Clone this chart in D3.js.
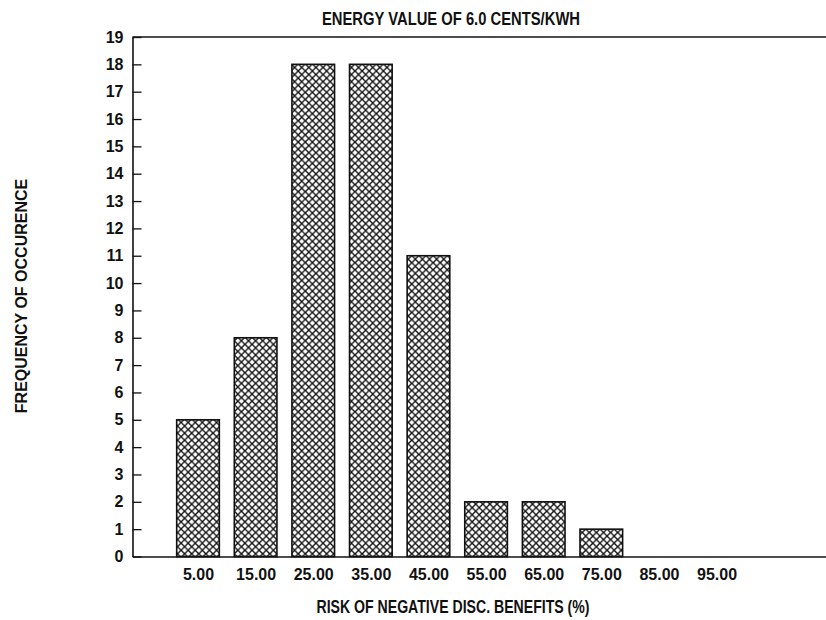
<!DOCTYPE html>
<html>
<head>
<meta charset="utf-8">
<script src="https://cdn.jsdelivr.net/npm/d3@7"></script>
<style>
  html, body { margin: 0; padding: 0; background: #fff; }
  svg { display: block; }
  text { font-family: "Liberation Sans", Arial, sans-serif; font-weight: bold; fill: #111; }
</style>
</head>
<body>
<svg id="chart" width="826" height="620"></svg>
<script>
// Histogram bins (midpoint of each risk interval, %) and counts
const binMids   = [5, 15, 25, 35, 45, 55, 65, 75, 85, 95];
const binLabels = ["5.00", "15.00", "25.00", "35.00", "45.00", "55.00", "65.00", "75.00", "85.00", "95.00"];
const counts    = [5, 8, 18, 18, 11, 2, 2, 1, 0, 0];
const yTicks    = d3.range(0, 20);

const titleText = "ENERGY VALUE OF 6.0 CENTS/KWH";
const xTitle    = "RISK OF NEGATIVE DISC. BENEFITS (%)";
const yTitle    = "FREQUENCY OF OCCURENCE";

const svg = d3.select("#chart");

const plotL = 132.5, plotR = 826, plotT = 37, plotB = 556.5;
const halfBar = 3.7; // half bar width in data units

const x = d3.scaleLinear().domain([-6.37, 114]).range([plotL, plotR]);
const y = d3.scaleLinear().domain([0, 19]).range([plotB, plotT]);

// Cross-hatch fill
const defs = svg.append("defs");
const s = 7.1;
const pat = defs.append("pattern")
  .attr("id", "xhatch")
  .attr("patternUnits", "userSpaceOnUse")
  .attr("width", s).attr("height", s);
pat.append("rect").attr("width", s).attr("height", s).attr("fill", "#fff");
pat.append("path")
  .attr("d", `M0,0L${s},${s}M${s},0L0,${s}`)
  .attr("stroke", "#111").attr("stroke-width", 1.4).attr("fill", "none");

// Top frame line
svg.append("line")
  .attr("x1", plotL).attr("x2", plotR)
  .attr("y1", plotT).attr("y2", plotT)
  .attr("stroke", "#111").attr("stroke-width", 1.6);

// Bars
const data = binMids.map((m, i) => ({ mid: m, count: counts[i] }));
svg.append("g").selectAll("rect")
  .data(data.filter(d => d.count > 0))
  .join("rect")
  .attr("x", d => x(d.mid - halfBar))
  .attr("width", d => x(d.mid + halfBar) - x(d.mid - halfBar))
  .attr("y", d => y(d.count))
  .attr("height", d => y(0) - y(d.count))
  .attr("fill", "url(#xhatch)")
  .attr("stroke", "#111")
  .attr("stroke-width", 1.6);

// Y axis: inward ticks, labels on the left
const yAxis = d3.axisLeft(y)
  .tickValues(yTicks)
  .tickFormat(d3.format("d"))
  .tickSizeInner(-9)
  .tickSizeOuter(0)
  .tickPadding(9);
const gy = svg.append("g").attr("transform", `translate(${plotL},0)`).call(yAxis);
gy.select(".domain").attr("stroke", "#111").attr("stroke-width", 1.6);
gy.selectAll(".tick line").attr("stroke", "#111").attr("stroke-width", 1.3);
gy.selectAll(".tick text")
  .style("font-family", "'Liberation Sans', Arial, sans-serif")
  .style("font-weight", "bold")
  .style("font-size", "16px")
  .attr("fill", "#111");

// X axis: labels only, baseline line spans the plot
const xAxis = d3.axisBottom(x)
  .tickValues(binMids)
  .tickFormat((d, i) => binLabels[i])
  .tickSizeInner(0)
  .tickSizeOuter(0)
  .tickPadding(12);
const gx = svg.append("g").attr("transform", `translate(0,${plotB})`).call(xAxis);
gx.select(".domain").attr("stroke", "#111").attr("stroke-width", 1.6);
gx.selectAll(".tick text")
  .style("font-family", "'Liberation Sans', Arial, sans-serif")
  .style("font-weight", "bold")
  .style("font-size", "16px")
  .attr("fill", "#111");

// Titles (condensed to the plotter lettering width)
svg.append("text")
  .attr("x", 451).attr("y", 25)
  .attr("text-anchor", "middle")
  .attr("textLength", 258)
  .attr("lengthAdjust", "spacingAndGlyphs")
  .style("font-size", "18px")
  .text(titleText);

svg.append("text")
  .attr("x", 453).attr("y", 613)
  .attr("text-anchor", "middle")
  .attr("textLength", 273)
  .attr("lengthAdjust", "spacingAndGlyphs")
  .style("font-size", "18px")
  .text(xTitle);

svg.append("text")
  .attr("transform", "translate(27,296) rotate(-90)")
  .attr("text-anchor", "middle")
  .style("font-size", "16px")
  .text(yTitle);
</script>
</body>
</html>
